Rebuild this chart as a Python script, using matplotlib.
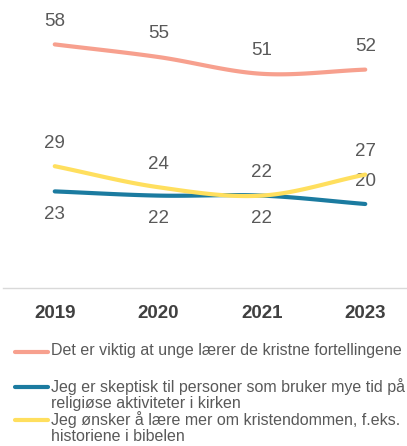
import numpy as np
import matplotlib
matplotlib.use("Agg")
import matplotlib.pyplot as plt
from matplotlib.lines import Line2D

plt.rcParams['font.family'] = ['Liberation Sans', 'DejaVu Sans']

years = ["2019", "2020", "2021", "2023"]
series_names = [
    "Det er viktig at unge lærer de kristne fortellingene",
    "Jeg er skeptisk til personer som bruker mye tid på\nreligiøse aktiviteter i kirken",
    "Jeg ønsker å lære mer om kristendommen, f.eks.\nhistoriene i bibelen",
]
important = [58, 55, 51, 52]
skeptical = [23, 22, 22, 20]
want_learn = [29, 24, 22, 27]

colors = ["#F7A08E", "#1B7BA0", "#FFDF5E"]
# label placement per point: +1 above the point, -1 below
label_side = [
    [1, 1, 1, 1],
    [-1, -1, -1, 1],
    [1, 1, 1, 1],
]


def catmull_rom(x, y, n=40):
    x = np.asarray(x, float)
    y = np.asarray(y, float)
    px = np.concatenate([[2 * x[0] - x[1]], x, [2 * x[-1] - x[-2]]])
    py = np.concatenate([[2 * y[0] - y[1]], y, [2 * y[-1] - y[-2]]])
    xs, ys = [], []
    for i in range(1, len(px) - 2):
        t = np.linspace(0, 1, n)
        p0, p1, p2, p3 = (np.array([px[j], py[j]]) for j in range(i - 1, i + 3))
        b1 = p1 + (p2 - p0) / 6
        b2 = p2 - (p3 - p1) / 6
        pts = ((1 - t) ** 3)[:, None] * p1 + (3 * (1 - t) ** 2 * t)[:, None] * b1 \
            + (3 * (1 - t) * t ** 2)[:, None] * b2 + (t ** 3)[:, None] * p2
        xs.append(pts[:, 0])
        ys.append(pts[:, 1])
    return np.concatenate(xs), np.concatenate(ys)


fig = plt.figure(figsize=(4.07, 4.46), dpi=100)
W, H = 407, 446
ax = fig.add_axes([3 / W, 1 - 288 / H, 414 / W, 285.6 / H])
ax.set_xlim(-0.5, 3.5)
ax.set_ylim(0, 68)

x = np.arange(len(years))
for vals, col, sides in zip([important, skeptical, want_learn], colors, label_side):
    sx, sy = catmull_rom(x, vals)
    ax.plot(sx, sy, color=col, lw=3.0, solid_capstyle='round', zorder=3)
    for xi, v, s in zip(x, vals, sides):
        ax.annotate(str(v), (xi, v), xytext=(0, 23 * s), textcoords='offset pixels',
                    ha='center', va='center', fontsize=13.5, color='#595959')

for side in ['top', 'right', 'left']:
    ax.spines[side].set_visible(False)
ax.spines['bottom'].set_color('#D9D9D9')
ax.spines['bottom'].set_linewidth(1.0)
ax.set_yticks([])
ax.set_xticks(x)
ax.set_xticklabels(years, fontsize=13.5, fontweight='bold', color='#404040')
ax.tick_params(axis='x', length=0, pad=12)

# key drawn manually to reproduce its spacing
ys_leg = [352, 387, 420]
for yl, col, name in zip(ys_leg, colors, series_names):
    fig.add_artist(Line2D([15 / W, 48 / W], [1 - yl / H, 1 - yl / H], color=col, lw=3.0,
                          solid_capstyle='round'))
    fig.text(51 / W, 1 - (yl - 9) / H, name, ha='left', va='top', fontsize=11.5,
             color='#595959', linespacing=1.05)

fig.savefig("out.png", dpi=100)
